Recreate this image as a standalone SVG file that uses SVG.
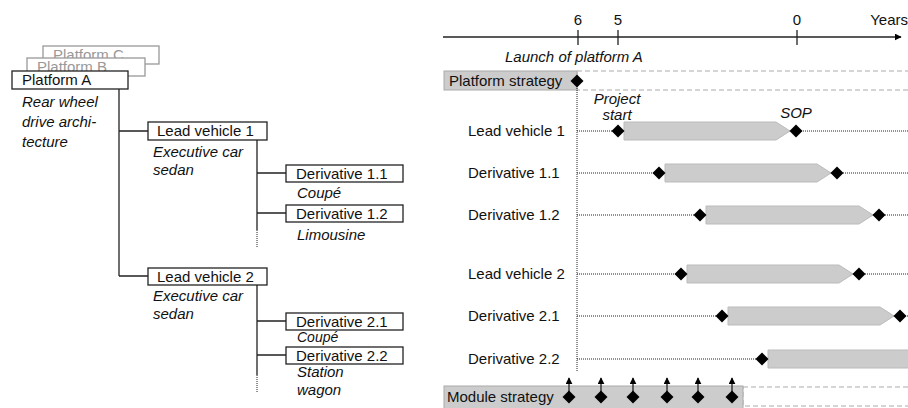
<svg xmlns="http://www.w3.org/2000/svg" width="908" height="408" viewBox="0 0 908 408">
<defs>
<style>
text{font-family:"Liberation Sans",Arial,sans-serif;font-size:15px;fill:#111}
.it{font-style:italic}
.sm{font-size:14px}
.box{fill:#fff;stroke:#222;stroke-width:1.3}
.gbox{fill:#fff;stroke:#999;stroke-width:1.3}
.gt{fill:#999}
.ln{stroke:#222;stroke-width:1.3;fill:none}
.dot{stroke:#222;stroke-width:1;stroke-dasharray:1 1;fill:none}
.dash{stroke:#aaa;stroke-width:1;stroke-dasharray:5 3;fill:none}
.bar{fill:#cccccc;stroke:#bbb;stroke-width:1}
.gray{fill:#cccccc;stroke:#aaa;stroke-width:1}
</style>
<marker id="ah" viewBox="0 0 10 10" refX="9" refY="5" markerWidth="7" markerHeight="7" orient="auto" markerUnits="userSpaceOnUse"><path d="M0,0 L10,5 L0,10 z" fill="#000"/></marker>
<symbol id="d" viewBox="-7 -7 14 14" overflow="visible"><polygon points="0,-6.5 6.5,0 0,6.5 -6.5,0"/></symbol>
</defs>

<g id="connectors">
<path class="ln" d="M119,89 V276 M119,131 H148 M119,276 H148"/>
<path class="ln" d="M257,140 V230 M257,173 H286 M257,213 H286"/>
<path class="dot" d="M257,230 V247"/>
<path class="ln" d="M257,285 V375 M257,321 H286 M257,355 H286"/>
<path class="dot" d="M257,375 V393"/>
</g>

<g id="platformC"><rect class="gbox" x="43" y="46" width="116" height="18"/><text class="gt" x="53" y="60">Platform C</text></g>
<g id="platformB"><rect class="gbox" x="27" y="58" width="118" height="18"/><text class="gt" x="37" y="72">Platform B</text></g>
<g id="platformA"><rect class="box" x="12" y="71" width="116" height="18"/><text x="22" y="85">Platform A</text>
<text class="it" x="22" y="107">Rear wheel</text><text class="it" x="22" y="127">drive archi-</text><text class="it" x="22" y="147">tecture</text></g>

<g id="lead1"><rect class="box" x="148" y="122" width="119" height="18"/><text x="157" y="136">Lead vehicle 1</text>
<text class="it" x="153" y="157">Executive car</text><text class="it" x="153" y="175">sedan</text></g>
<g id="der11"><rect class="box" x="286" y="165" width="117" height="17"/><text x="296" y="179">Derivative 1.1</text><text class="it" x="297" y="198">Coupé</text></g>
<g id="der12"><rect class="box" x="286" y="205" width="117" height="17"/><text x="296" y="219">Derivative 1.2</text><text class="it" x="297" y="240">Limousine</text></g>

<g id="lead2"><rect class="box" x="148" y="268" width="119" height="17"/><text x="157" y="282">Lead vehicle 2</text>
<text class="it" x="153" y="301">Executive car</text><text class="it" x="153" y="319">sedan</text></g>
<g id="der21"><rect class="box" x="286" y="313" width="117" height="17"/><text x="296" y="326.5">Derivative 2.1</text><text class="it sm" x="297" y="342">Coupé</text></g>
<g id="der22"><rect class="box" x="286" y="347" width="117" height="17"/><text x="296" y="361">Derivative 2.2</text><text class="it" x="297" y="377">Station</text><text class="it" x="297" y="395">wagon</text></g>

<g id="axis">
<path class="ln" d="M443,37 H901" marker-end="url(#ah)"/>
<path class="ln" d="M578,30 V45 M618,30 V45 M797,30 V45"/>
<text x="578" y="25" text-anchor="middle">6</text>
<text x="618" y="25" text-anchor="middle">5</text>
<text x="797" y="25" text-anchor="middle">0</text>
<text x="908" y="25" text-anchor="end">Years</text>
<text class="it" x="505" y="62">Launch of platform A</text>
</g>

<g id="platform-strategy">
<rect class="dash" x="577" y="71" width="340" height="19"/>
<rect class="gray" x="444" y="71" width="133" height="19"/>
<text x="449" y="86">Platform strategy</text>
<path class="dot" d="M577,88 V372"/>
<use href="#d" x="570" y="74" width="14" height="14"/>
</g>

<g id="rows">
<path class="dot" d="M577,131 H908 M577,173 H908 M577,215 H908 M577,274 H908 M577,316 H908 M577,359 H762"/>
<g id="row-lv1"><text x="468" y="136">Lead vehicle 1</text>
<polygon class="bar" points="624,122 776,122 790,131 776,140 624,140"/>
<use href="#d" x="611" y="124" width="14" height="14"/><use href="#d" x="789" y="124" width="14" height="14"/>
<text class="it" x="617" y="104" text-anchor="middle">Project</text><text class="it" x="617" y="120" text-anchor="middle">start</text>
<text class="it" x="796" y="118" text-anchor="middle">SOP</text></g>
<g id="row-d11"><text x="468" y="178">Derivative 1.1</text>
<polygon class="bar" points="665,164 817,164 831,173 817,182 665,182"/>
<use href="#d" x="652" y="166" width="14" height="14"/><use href="#d" x="830" y="166" width="14" height="14"/></g>
<g id="row-d12"><text x="468" y="220">Derivative 1.2</text>
<polygon class="bar" points="706,206 859,206 873,215 859,224 706,224"/>
<use href="#d" x="693" y="208" width="14" height="14"/><use href="#d" x="872" y="208" width="14" height="14"/></g>
<g id="row-lv2"><text x="468" y="279">Lead vehicle 2</text>
<polygon class="bar" points="687,265 839,265 853,274 839,283 687,283"/>
<use href="#d" x="674" y="267" width="14" height="14"/><use href="#d" x="852" y="267" width="14" height="14"/></g>
<g id="row-d21"><text x="468" y="321">Derivative 2.1</text>
<polygon class="bar" points="728,307 880,307 894,316 880,325 728,325"/>
<use href="#d" x="715" y="309" width="14" height="14"/><use href="#d" x="893" y="309" width="14" height="14"/></g>
<g id="row-d22"><text x="468" y="364">Derivative 2.2</text>
<polygon class="bar" points="768,350 912,350 912,368 768,368"/>
<use href="#d" x="755" y="352" width="14" height="14"/></g>
</g>

<g id="module-strategy">
<rect class="dash" x="743" y="387" width="170" height="19"/>
<rect class="gray" x="444" y="386" width="299" height="25"/>
<text x="447" y="402">Module strategy</text>
<path class="ln" d="M569,397 V378" marker-end="url(#ah)"/>
<path class="ln" d="M601,397 V378" marker-end="url(#ah)"/>
<path class="ln" d="M633,397 V378" marker-end="url(#ah)"/>
<path class="ln" d="M667,397 V378" marker-end="url(#ah)"/>
<path class="ln" d="M698,397 V378" marker-end="url(#ah)"/>
<path class="ln" d="M732,397 V378" marker-end="url(#ah)"/>
<use href="#d" x="562" y="390" width="14" height="14"/>
<use href="#d" x="594" y="390" width="14" height="14"/>
<use href="#d" x="626" y="390" width="14" height="14"/>
<use href="#d" x="660" y="390" width="14" height="14"/>
<use href="#d" x="691" y="390" width="14" height="14"/>
<use href="#d" x="725" y="390" width="14" height="14"/>
</g>
</svg>
